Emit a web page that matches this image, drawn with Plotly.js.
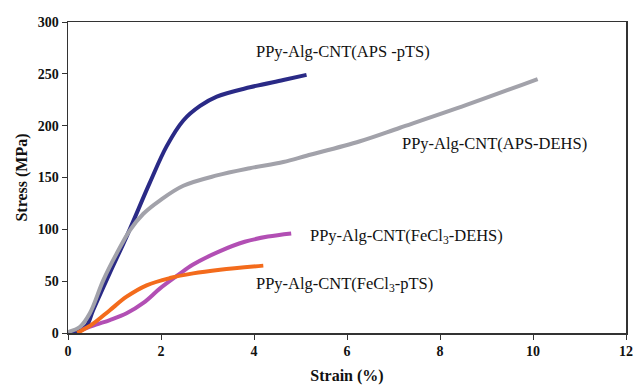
<!DOCTYPE html>
<html><head><meta charset="utf-8">
<script src="https://cdn.plot.ly/plotly-3.0.1.min.js"></script>
<style>html,body{margin:0;padding:0;background:#fff}#chart{width:640px;height:389px}</style>
</head><body><div id="chart"></div>
<script>
// Strain (%) and Stress (MPa)
const apsPtsX = [0, 0.2, 0.4, 0.54, 0.9, 1.26, 1.76, 2.12, 2.48, 2.84, 3.2, 3.91, 4.63, 5.13];
const apsPtsY = [0, 1, 7, 22, 58, 93, 145, 180, 205, 219, 228, 237, 244, 249];

const apsDehsX = [0, 0.26, 0.47, 0.76, 1.05, 1.33, 1.62, 1.98, 2.48, 3.2, 3.91, 4.63, 5.13, 6.28, 7.14, 8.57, 10.1];
const apsDehsY = [1, 6, 19, 51, 77, 99, 115, 128, 142, 152, 159, 165, 171, 185, 198, 220, 245];

const feDehsX = [0.3, 0.6, 0.9, 1.26, 1.62, 1.98, 2.34, 2.69, 3.27, 3.8, 4.3, 4.8];
const feDehsY = [3, 8, 12.5, 19, 29, 43, 55, 66, 79, 88, 93, 96];

const fePtsX = [0.2, 0.54, 0.9, 1.26, 1.69, 2.19, 2.69, 3.27, 4.2];
const fePtsY = [0, 9, 22, 35, 46, 53, 57.5, 61, 65];

const seriesNames = ["PPy-Alg-CNT(APS -pTS)", "PPy-Alg-CNT(APS-DEHS)", "PPy-Alg-CNT(FeCl<sub>3</sub>-DEHS)", "PPy-Alg-CNT(FeCl<sub>3</sub>-pTS)"];
const xTicks = [0, 2, 4, 6, 8, 10, 12];
const yTicks = [0, 50, 100, 150, 200, 250, 300];

const colors = ["#2a2a86", "#a2a2aa", "#b24fb4", "#f36b1c"];
const xs = [apsPtsX, apsDehsX, feDehsX, fePtsX];
const ys = [apsPtsY, apsDehsY, feDehsY, fePtsY];

const traces = xs.map((x, i) => ({
  x: x, y: ys[i], type: "scatter", mode: "lines", name: seriesNames[i],
  line: {color: colors[i], width: 4, shape: "spline", smoothing: 1},
  showlegend: false
}));

const serif = "Liberation Serif";
const labelFont = {family: serif, size: 16.5, color: "#111"};
const annotations = [
  {x: 5.92, y: 272, text: seriesNames[0]},
  {x: 9.18, y: 183, text: seriesNames[1]},
  {x: 7.29, y: 93.5, text: seriesNames[2]},
  {x: 5.94, y: 47, text: seriesNames[3]}
].map(a => Object.assign(a, {xref: "x", yref: "y", showarrow: false, font: labelFont}));

const tickFont = {family: serif, size: 14, color: "#111", weight: "bold"};
const titleFont = {family: serif, size: 16, color: "#111", weight: "bold"};

const layout = {
  width: 640, height: 389,
  margin: {l: 68, r: 14, t: 22, b: 56},
  paper_bgcolor: "#fff", plot_bgcolor: "#fff",
  font: {family: serif},
  xaxis: {
    range: [0, 12], tickvals: xTicks, ticktext: xTicks.map(String),
    showgrid: false, zeroline: false, showline: true, mirror: true,
    linecolor: "#333", linewidth: 1.5, ticks: "outside", ticklen: 5, tickcolor: "#333",
    tickfont: tickFont,
    title: {text: "Strain (%)", font: titleFont, standoff: 11}
  },
  yaxis: {
    range: [0, 300], tickvals: yTicks, ticktext: yTicks.map(String),
    showgrid: false, zeroline: false, showline: true, mirror: true,
    linecolor: "#333", linewidth: 1.5, ticks: "outside", ticklen: 5, tickcolor: "#333",
    tickfont: tickFont,
    title: {text: "Stress (MPa)", font: titleFont, standoff: 6}
  },
  annotations: annotations
};

Plotly.newPlot("chart", traces, layout, {displayModeBar: false, staticPlot: true});
</script>
</body></html>
